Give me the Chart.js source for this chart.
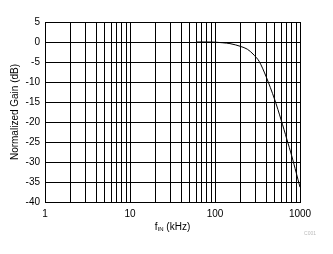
<!DOCTYPE html>
<html lang="en">
<head>
    <meta charset="UTF-8" />
    <title>Normalized Gain vs fIN</title>
    <script src="https://cdn.jsdelivr.net/npm/chart.js"></script>
    <style>
        html, body { margin: 0; padding: 0; background: #fff; }
        #wrap { width: 333px; height: 254px; }
    </style>
</head>
<body>
    <div id="wrap"><canvas id="gainChart" width="333" height="254"></canvas></div>
</body>
</html>

<script>
    // frequency (kHz) and normalized gain (dB)
    const freqKHz = [60, 80, 100, 150, 200, 240, 280, 330, 400, 500, 600, 700, 800, 900, 1000];
    const gainDb = [0, 0, -0.05, -0.4, -1.1, -1.8, -3.0, -4.8, -8.7, -14.2, -19.5, -24.3, -28.5, -32.6, -36.3];

    const xGridValues = [1, 2, 3, 4, 5, 6, 7, 8, 9, 10, 20, 30, 40, 50, 60, 70, 80, 90, 100,
        200, 300, 400, 500, 600, 700, 800, 900, 1000];
    const xTickLabels = [1, 10, 100, 1000];
    const yMin = -40, yMax = 5, yStep = 5;

    const FONT = 'Liberation Sans, Arial, sans-serif';

    // draws the x title with subscript and the small figure tag
    const extraText = {
        id: 'extraText',
        afterDraw(chart) {
            const c = chart.ctx;
            const area = chart.chartArea;
            c.save();
            c.fillStyle = '#000';
            c.textBaseline = 'middle';
            c.font = '10px ' + FONT;
            const wF = c.measureText('f').width;
            const rest = ' (kHz)';
            const wRest = c.measureText(rest).width;
            c.font = '6px ' + FONT;
            const wSub = c.measureText('IN').width;
            const total = wF + wSub + wRest;
            let x = (area.left + area.right) / 2 - total / 2;
            const y = 227;
            c.textAlign = 'left';
            c.font = '10px ' + FONT;
            c.fillText('f', x, y);
            x += wF;
            c.font = '6px ' + FONT;
            c.fillText('IN', x, y + 2);
            x += wSub;
            c.font = '10px ' + FONT;
            c.fillText(rest, x, y);

            c.fillStyle = '#bbb';
            c.font = '5px ' + FONT;
            c.textAlign = 'center';
            c.fillText('C001', 310, 233.5);
            c.restore();
        }
    };

    new Chart(document.getElementById('gainChart').getContext('2d'), {
        type: 'line',
        data: {
            datasets: [{
                data: freqKHz.map((f, i) => ({ x: f, y: gainDb[i] })),
                borderColor: '#000',
                borderWidth: 1,
                pointRadius: 0,
                tension: 0.3,
                fill: false
            }]
        },
        options: {
            responsive: false,
            animation: false,
            layout: { padding: { top: 22, right: 33, bottom: 20, left: 0 } },
            plugins: {
                legend: { display: false },
                tooltip: { enabled: false }
            },
            scales: {
                x: {
                    type: 'logarithmic',
                    min: 1,
                    max: 1000,
                    afterBuildTicks: (scale) => {
                        scale.ticks = xGridValues.map(v => ({ value: v }));
                    },
                    afterFit: (scale) => { scale.height = 32; },
                    ticks: {
                        autoSkip: false,
                        maxRotation: 0,
                        padding: 6,
                        color: '#000',
                        font: { family: FONT, size: 10 },
                        callback: (v) => xTickLabels.includes(v) ? String(v) : ''
                    },
                    grid: { color: '#000', lineWidth: 1, drawTicks: false },
                    border: { color: '#000', width: 1 }
                },
                y: {
                    min: yMin,
                    max: yMax,
                    afterFit: (scale) => { scale.width = 45; },
                    ticks: {
                        stepSize: yStep,
                        padding: 5,
                        color: '#000',
                        font: { family: FONT, size: 10 }
                    },
                    title: {
                        display: true,
                        text: 'Normalized Gain (dB)',
                        color: '#000',
                        font: { family: FONT, size: 10 },
                        padding: { top: 9, bottom: 0 }
                    },
                    grid: { color: '#000', lineWidth: 1, drawTicks: false },
                    border: { color: '#000', width: 1 }
                }
            }
        },
        plugins: [extraText]
    });
</script>
